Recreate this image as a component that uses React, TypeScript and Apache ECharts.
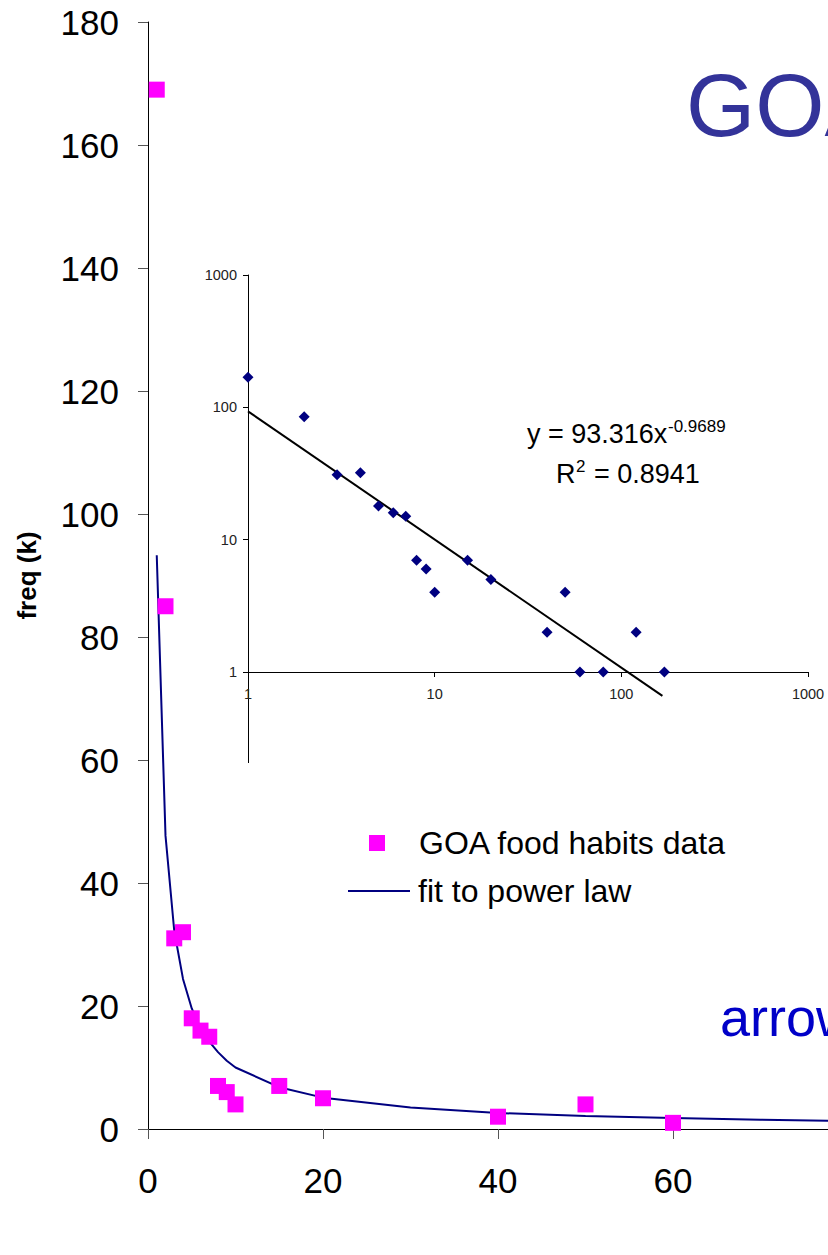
import React, { useEffect, useRef } from "react";
import * as echarts from "echarts";

// Observed data (GOA food habits), shared by main chart and log-log inset
const dataX = [1, 2, 3, 4, 5, 6, 7, 8, 9, 10, 15, 20, 40, 50, 60, 80, 120, 170];
const dataY = [169, 85, 31, 32, 18, 16, 15, 7, 6, 4, 7, 5, 2, 4, 1, 1, 2, 1];

// Power-law fit curve as drawn on the main chart
const fitX = [1, 2, 3, 4, 5, 6, 7, 8, 9, 10, 15, 20, 30, 40, 50, 60, 70, 80];
const fitY = [93.3, 47.7, 32.2, 24.4, 19.6, 16.4, 14.2, 12.5, 11.1, 10.0, 6.8, 5.1, 3.5, 2.6, 2.1, 1.8, 1.5, 1.3];

// Fit line endpoints on the inset (straight in log-log)
const logFitX = [1, 166];
const logFitY = [93.3, 0.66];

const seriesNames = ["GOA food habits data", "fit to power law"];
const equationText = "y = 93.316x";
const equationExp = "-0.9689";
const r2Value = "= 0.8941";
const yAxisName = "freq (k)";

const FONT = '"Liberation Sans", Arial, Helvetica, sans-serif';

export default function App() {
  const ref = useRef<HTMLDivElement>(null);

  useEffect(() => {
    if (!ref.current) return;
    const chart = echarts.init(ref.current, null, { renderer: "svg" });

    const mainPts = dataX.map((x, i) => [x, dataY[i]]);
    const fitPts = fitX.map((x, i) => [x, fitY[i]]);
    const logFitPts = logFitX.map((x, i) => [x, logFitY[i]]);

    const logAxisCommon = {
      type: "log" as const,
      logBase: 10,
      min: 1,
      max: 1000,
      gridIndex: 1,
      axisLine: { show: true, onZero: false, lineStyle: { color: "#000", width: 1 } },
      axisTick: { show: true, inside: false, length: 5, lineStyle: { color: "#000" } },
      minorTick: { show: false },
      splitLine: { show: false },
      axisLabel: {
        fontSize: 14.5,
        fontFamily: FONT,
        color: "#222",
        formatter: (v: number) => String(Math.round(v)),
      },
    };

    const option: any = {
      animation: false,
      backgroundColor: "#fff",
      textStyle: { fontFamily: FONT },
      grid: [
        { left: 148, top: 22, width: 700, height: 1107, containLabel: false },
        { left: 248, top: 275, width: 560, height: 397, containLabel: false },
      ],
      xAxis: [
        {
          type: "value",
          gridIndex: 0,
          min: 0,
          max: 80,
          interval: 20,
          axisLine: { show: true, lineStyle: { color: "#000", width: 1 } },
          axisTick: { show: true, inside: false, length: 10, lineStyle: { color: "#555" } },
          splitLine: { show: false },
          axisLabel: { fontSize: 35, color: "#000", fontFamily: FONT, margin: 34, showMaxLabel: false },
        },
        { ...logAxisCommon, axisLabel: { ...logAxisCommon.axisLabel, margin: 14 } },
      ],
      yAxis: [
        {
          type: "value",
          gridIndex: 0,
          min: 0,
          max: 180,
          interval: 20,
          name: yAxisName,
          nameLocation: "middle",
          nameGap: 108,
          nameTextStyle: { fontSize: 26, fontWeight: "bold", color: "#000", fontFamily: FONT },
          axisLine: { show: true, lineStyle: { color: "#000", width: 1 } },
          axisTick: { show: true, inside: false, length: 10, lineStyle: { color: "#555" } },
          splitLine: { show: false },
          axisLabel: { fontSize: 35, color: "#000", fontFamily: FONT, margin: 29 },
        },
        { ...logAxisCommon, axisLabel: { ...logAxisCommon.axisLabel, margin: 11 } },
      ],
      legend: [
        {
          data: [{ name: seriesNames[0], icon: "rect" }],
          left: 369,
          top: 827,
          padding: 0,
          itemWidth: 16,
          itemHeight: 16,
          itemStyle: { opacity: 1 },
          textStyle: { fontSize: 32, color: "#000", fontFamily: FONT, padding: [0, 0, 0, 29] },
          selectedMode: false,
        },
        {
          data: [{ name: seriesNames[1] }],
          left: 347,
          top: 875,
          padding: 0,
          itemWidth: 62,
          itemHeight: 14,
          itemStyle: { opacity: 0 },
          lineStyle: { color: "#000080", width: 2 },
          textStyle: { fontSize: 32, color: "#000", fontFamily: FONT, padding: [0, 0, 0, 3] },
          selectedMode: false,
        },
      ],
      series: [
        {
          name: seriesNames[1],
          type: "line",
          xAxisIndex: 0,
          yAxisIndex: 0,
          data: fitPts,
          symbol: "none",
          smooth: false,
          lineStyle: { color: "#000080", width: 2 },
          itemStyle: { color: "#000080" },
          z: 2,
        },
        {
          name: seriesNames[0],
          type: "scatter",
          xAxisIndex: 0,
          yAxisIndex: 0,
          data: mainPts,
          symbol: "rect",
          symbolSize: 16,
          itemStyle: { color: "#FF00FF", opacity: 1 },
          z: 3,
        },
        {
          name: "inset fit",
          type: "line",
          xAxisIndex: 1,
          yAxisIndex: 1,
          data: logFitPts,
          symbol: "none",
          clip: false,
          lineStyle: { color: "#000", width: 2 },
          z: 4,
        },
        {
          name: "inset data",
          type: "scatter",
          xAxisIndex: 1,
          yAxisIndex: 1,
          data: mainPts,
          symbol: "diamond",
          symbolSize: 11,
          clip: false,
          itemStyle: { color: "#000080", opacity: 1 },
          z: 5,
        },
      ],
      graphic: [
        {
          type: "line",
          shape: { x1: 248.5, y1: 672, x2: 248.5, y2: 763 },
          style: { stroke: "#000", lineWidth: 1 },
          silent: true,
        },
        {
          type: "text",
          x: 686,
          y: 105,
          style: { text: "GOA", fontSize: 89, fontFamily: FONT, fill: "#333399", align: "left", verticalAlign: "middle" },
        },
        {
          type: "text",
          x: 720,
          y: 1017,
          style: { text: "arrow", fontSize: 54, fontFamily: FONT, fill: "#0000C8", align: "left", verticalAlign: "middle" },
        },
        {
          type: "text",
          x: 527,
          y: 434,
          style: { text: equationText, fontSize: 27, fontFamily: FONT, fill: "#000", align: "left", verticalAlign: "middle" },
        },
        {
          type: "text",
          x: 668,
          y: 426,
          style: { text: equationExp, fontSize: 17, fontFamily: FONT, fill: "#000", align: "left", verticalAlign: "middle" },
        },
        {
          type: "text",
          x: 556,
          y: 474,
          style: { text: "R", fontSize: 27, fontFamily: FONT, fill: "#000", align: "left", verticalAlign: "middle" },
        },
        {
          type: "text",
          x: 576,
          y: 466,
          style: { text: "2", fontSize: 17, fontFamily: FONT, fill: "#000", align: "left", verticalAlign: "middle" },
        },
        {
          type: "text",
          x: 594,
          y: 474,
          style: { text: r2Value, fontSize: 27, fontFamily: FONT, fill: "#000", align: "left", verticalAlign: "middle" },
        },
      ],
    };

    chart.setOption(option);
    return () => chart.dispose();
  }, []);

  return (
    <div
      style={{
        position: "fixed",
        left: 0,
        top: 0,
        width: 828,
        height: 1255,
        overflow: "hidden",
        background: "#fff",
      }}
    >
      <div ref={ref} style={{ width: 900, height: 1255 }} />
    </div>
  );
}
